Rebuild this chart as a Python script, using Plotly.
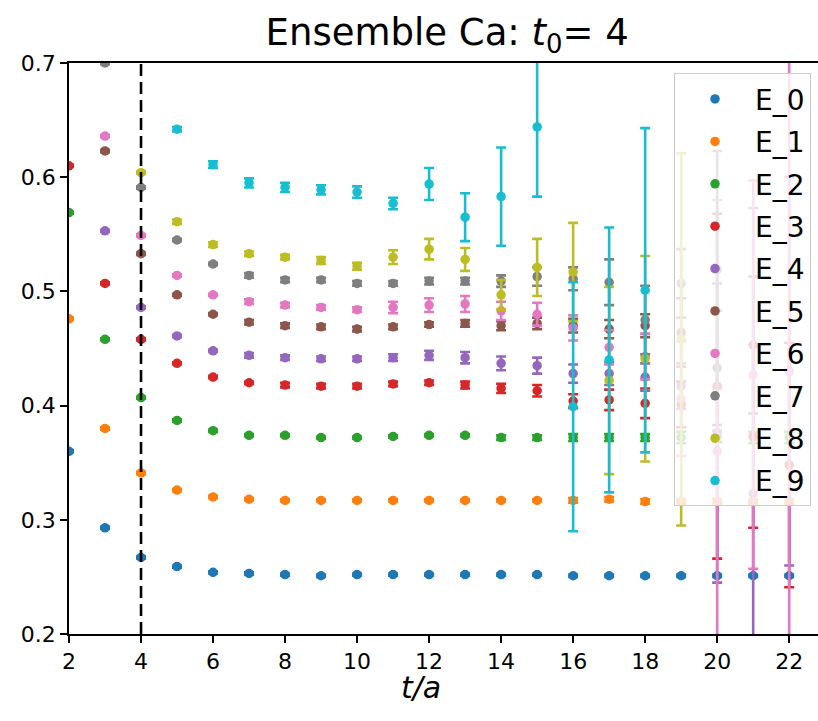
import plotly.graph_objects as go

# ---------------- data ----------------
t_values = list(range(2, 23))
T0 = 4
series_names = ["E_0", "E_1", "E_2", "E_3", "E_4", "E_5", "E_6", "E_7", "E_8", "E_9"]
colors = ["#1f77b4", "#ff7f0e", "#2ca02c", "#d62728", "#9467bd",
          "#8c564b", "#e377c2", "#7f7f7f", "#bcbd22", "#17becf"]

E_0 = [0.360, 0.293, 0.267, 0.259, 0.254, 0.253, 0.252, 0.251, 0.252, 0.252, 0.252,
       0.252, 0.252, 0.252, 0.251, 0.251, 0.251, 0.251, 0.251, 0.251, 0.251]
E_0_err = [0.001] * 21

E_1 = [0.476, 0.380, 0.341, 0.326, 0.320, 0.318, 0.317, 0.317, 0.317, 0.317, 0.317,
       0.317, 0.317, 0.317, 0.317, 0.318, 0.316, 0.316, 0.316, 0.316, 0.316]
E_1_err = [0.001] * 14 + [0.002] * 7

E_2 = [0.569, 0.458, 0.407, 0.387, 0.378, 0.374, 0.374, 0.372, 0.372, 0.373, 0.374,
       0.374, 0.372, 0.372, 0.372, 0.372, 0.372, 0.372, 0.373, 0.372, 0.372]
E_2_err = [0.001] * 12 + [0.002, 0.002, 0.003, 0.003, 0.003, 0.005, 0.005, 0.005, 0.005]

E_3 = [0.610, 0.507, 0.458, 0.437, 0.425, 0.420, 0.418, 0.417, 0.417, 0.419, 0.420,
       0.418, 0.415, 0.413, 0.404, 0.405, 0.402, 0.401, 0.417, 0.373, 0.348]
E_3_err = [0.001, 0.001, 0.001, 0.001, 0.001, 0.001, 0.002, 0.002, 0.002, 0.002, 0.002,
           0.003, 0.004, 0.005, 0.006, 0.009, 0.013, 0.020, 0.151, 0.080, 0.107]

E_4 = [0.720, 0.553, 0.486, 0.461, 0.448, 0.444, 0.442, 0.441, 0.441, 0.442, 0.444,
       0.442, 0.437, 0.435, 0.428, 0.428, 0.425, 0.417, 0.376, 0.323, 0.430]
E_4_err = [0.001, 0.001, 0.001, 0.001, 0.001, 0.002, 0.002, 0.002, 0.002, 0.003, 0.004,
           0.005, 0.006, 0.007, 0.008, 0.010, 0.012, 0.020, 0.131, 0.250, 0.170]

E_5 = [0.720, 0.623, 0.533, 0.497, 0.480, 0.473, 0.470, 0.469, 0.467, 0.469, 0.471,
       0.472, 0.470, 0.472, 0.470, 0.467, 0.470, 0.464, 0.433, 0.453, None]
E_5_err = [0.001, 0.001, 0.001, 0.001, 0.001, 0.002, 0.002, 0.002, 0.002, 0.002, 0.002,
           0.003, 0.004, 0.005, 0.006, 0.008, 0.010, 0.030, 0.050, 0.060, None]

E_6 = [0.730, 0.636, 0.549, 0.514, 0.497, 0.491, 0.488, 0.486, 0.484, 0.486, 0.488,
       0.489, 0.483, 0.480, 0.468, 0.451, 0.443, 0.406, 0.360, 0.427, 0.430]
E_6_err = [0.001, 0.001, 0.001, 0.001, 0.001, 0.002, 0.002, 0.002, 0.002, 0.005, 0.006,
           0.007, 0.008, 0.010, 0.011, 0.015, 0.020, 0.050, 0.220, 0.170, 0.320]

E_7 = [0.760, 0.700, 0.591, 0.545, 0.524, 0.514, 0.510, 0.510, 0.507, 0.507, 0.509,
       0.509, 0.509, 0.513, 0.511, 0.508, 0.475, 0.507, 0.519, None, None]
E_7_err = [0.001, 0.001, 0.001, 0.001, 0.001, 0.002, 0.002, 0.002, 0.002, 0.002, 0.003,
           0.003, 0.005, 0.008, 0.010, 0.020, 0.030, 0.030, 0.104, None, None]

E_8 = [0.780, 0.720, 0.604, 0.561, 0.541, 0.533, 0.530, 0.527, 0.522, 0.530, 0.537,
       0.528, 0.497, 0.521, 0.517, 0.422, 0.441, 0.458, None, None, None]
E_8_err = [0.001, 0.001, 0.001, 0.002, 0.002, 0.002, 0.002, 0.003, 0.003, 0.006, 0.009,
           0.010, 0.013, 0.025, 0.043, 0.082, 0.090, 0.163, None, None, None]

E_9 = [0.850, 0.760, 0.715, 0.642, 0.611, 0.595, 0.591, 0.589, 0.587, 0.577, 0.594,
       0.565, 0.583, 0.644, 0.399, 0.440, 0.501, None, None, None, None]
E_9_err = [0.001, 0.001, 0.001, 0.002, 0.003, 0.004, 0.004, 0.004, 0.005, 0.005, 0.014,
           0.021, 0.043, 0.061, 0.109, 0.116, 0.142, None, None, None, None]

values = [E_0, E_1, E_2, E_3, E_4, E_5, E_6, E_7, E_8, E_9]
errors = [E_0_err, E_1_err, E_2_err, E_3_err, E_4_err, E_5_err, E_6_err, E_7_err, E_8_err, E_9_err]

x_ticks = list(range(2, 23, 2))
y_ticks = [0.2, 0.3, 0.4, 0.5, 0.6, 0.7]
y_tick_labels = ["0.2", "0.3", "0.4", "0.5", "0.6", "0.7"]

# ---------------- figure ----------------
FONT = "DejaVu Sans"
fig = go.Figure()

for name, col, v, e in zip(series_names, colors, values, errors):
    fig.add_trace(go.Scatter(
        x=t_values, y=v, name=name, mode="markers",
        legendgroup=name,
        marker=dict(color=col, size=9.5, line=dict(width=0)),
        error_y=dict(type="data", array=e, visible=True, color=col,
                     thickness=2.6, width=5),
    ))

fig.add_shape(type="line", xref="x", yref="paper", x0=T0, x1=T0, y0=0, y1=1,
              line=dict(color="black", width=2.6, dash="12px,6px"))

fig.add_annotation(text="t/a", xref="paper", yref="paper",
                   x=0.47, y=0, yshift=-53, xanchor="center", yanchor="middle",
                   showarrow=False, borderpad=0,
                   font=dict(size=30, family=FONT, color="black", style="italic"))

fig.update_layout(
    width=818, height=721,
    margin=dict(l=69, r=0, t=63, b=87),
    plot_bgcolor="white", paper_bgcolor="white",
    font=dict(family=FONT, color="black"),
    title=dict(text="Ensemble Ca: <i>t</i><sub>0</sub>= 4",
               x=0.505, xref="paper", xanchor="center",
               y=1 - 32 / 721, yref="container", yanchor="middle",
               font=dict(size=37, family=FONT, color="black")),
    showlegend=True,
    legend=dict(x=0.9907, xanchor="right", y=0.982, yanchor="top",
                bgcolor="rgba(255,255,255,0.8)", bordercolor="#cccccc", borderwidth=1,
                font=dict(size=28, family=FONT, color="black"),
                itemwidth=70, tracegroupgap=3, traceorder="grouped"),
    xaxis=dict(range=[2, 22.8], tickmode="array", tickvals=x_ticks,
               ticks="outside", ticklen=7, tickwidth=1.6, tickcolor="black",
               showline=True, linecolor="black", linewidth=1.6, mirror=True,
               showgrid=False, zeroline=False,
               tickfont=dict(size=22, family=FONT, color="black")),
    yaxis=dict(range=[0.2, 0.7], tickmode="array", tickvals=y_ticks, ticktext=y_tick_labels,
               ticks="outside", ticklen=7, tickwidth=1.6, tickcolor="black",
               showline=True, linecolor="black", linewidth=1.6, mirror=False,
               showgrid=False, zeroline=False,
               tickfont=dict(size=22, family=FONT, color="black")),
)

fig.write_html("out.html")
